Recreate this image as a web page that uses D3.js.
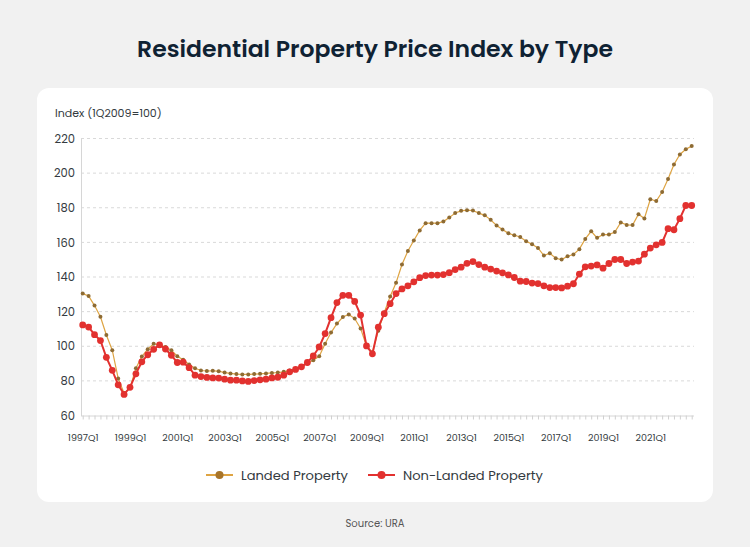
<!DOCTYPE html>
<html>
<head>
<meta charset="utf-8">
<script src="https://cdn.jsdelivr.net/npm/d3@7"></script>
<style>
  html, body { margin: 0; padding: 0; background: #f1f1f1; }
  svg { display: block; }
</style>
</head>
<body>
<svg id="chart" width="750" height="547"></svg>
<script>
// ---------- DATA ----------
const startYear = 1997;
const endYear = 2022;
const categories = [];
for (let y = startYear; y <= endYear; y++) for (let q = 1; q <= 4; q++) categories.push(y + "Q" + q);

const tickLabels = ["1997Q1","1999Q1","2001Q1","2003Q1","2005Q1","2007Q1","2009Q1","2011Q1","2013Q1","2015Q1","2017Q1","2019Q1","2021Q1"];
const yTicks = [60, 80, 100, 120, 140, 160, 180, 200, 220];

const landed = [
  130.4,129.0,123.5,117.0,106.5,97.7,81.4,72.8,76.0,87.3,94.1,98.3,101.4,100.8,99.6,97.7,
  94.2,92.2,89.5,87.3,86.0,85.7,85.8,85.6,84.8,84.3,83.9,83.7,83.7,83.9,84.1,84.3,
  84.6,84.8,85.2,86.0,87.0,88.5,90.0,91.9,94.2,101.5,107.9,113.1,116.9,118.4,116.0,110.3,
  100.0,96.5,109.0,119.5,128.8,136.7,147.2,155.0,161.1,166.9,171.1,171.1,171.1,172.0,174.3,177.0,
  178.2,178.6,178.4,176.9,175.6,173.0,169.8,167.4,165.2,164.1,163.1,160.7,158.9,156.8,152.4,153.7,
  150.8,150.1,152.0,153.0,156.1,162.0,166.4,162.6,164.5,164.5,166.0,171.5,170.1,170.0,176.3,173.8,
  184.9,183.9,189.1,196.6,205.0,210.8,213.8,215.6
];
const nonLanded = [
  112.3,111.1,106.7,103.3,93.6,86.1,77.7,72.2,76.3,84.1,91.0,95.1,98.2,100.8,98.4,94.8,
  90.6,90.8,87.6,83.3,82.5,82.0,81.7,81.6,81.0,80.4,80.4,80.0,79.7,80.2,80.6,81.0,
  81.7,82.1,83.3,85.2,86.6,88.1,90.6,94.4,99.6,107.3,116.5,125.2,129.4,129.4,125.9,118.0,
  100.2,95.6,111.0,118.8,124.6,130.4,133.1,134.9,137.2,139.6,140.8,141.1,141.1,141.4,142.5,144.3,
  145.7,147.9,148.9,147.2,145.7,144.6,143.4,142.4,141.2,139.7,137.6,137.4,136.5,136.2,134.9,133.9,
  133.9,133.7,134.7,136.1,141.7,145.9,146.3,147.0,145.1,147.8,150.1,150.1,147.8,148.6,149.2,153.2,
  156.7,158.6,160.0,167.9,167.3,173.7,181.3,181.3
];

const seriesNames = ["Landed Property", "Non-Landed Property"];

// ---------- STYLE ----------
const FONT = "Poppins, Inter, 'Noto Sans', sans-serif";
const landedLine = "#dea443";
const landedDot = "#8e6b33";
const landedLegendDot = "#a8752a";
const redColor = "#e2312f";
const textColor = "#333a40";

const svg = d3.select("#chart");

// card
svg.append("rect").attr("x", 37).attr("y", 88).attr("width", 676).attr("height", 414)
  .attr("rx", 12).attr("fill", "#ffffff");

// title (fit to width)
const title = svg.append("text").attr("x", 375).attr("y", 57).attr("text-anchor", "middle")
  .attr("font-family", FONT).attr("font-weight", 600).attr("font-size", 24)
  .attr("fill", "#0f2233").text("Residential Property Price Index by Type");
(function fit(){
  const w = title.node().getComputedTextLength();
  title.attr("font-size", 24 * 476 / w);
})();

// scales
const x = d3.scalePoint().domain(categories).range([82.7, 691.7]);
const y = d3.scaleLinear().domain([60, 220]).range([415.5, 138.5]);

// grid lines
const grid = svg.append("g");
grid.selectAll("line").data(yTicks.filter(d => d > 60)).join("line")
  .attr("x1", 81).attr("x2", 694)
  .attr("y1", d => y(d)).attr("y2", d => y(d))
  .attr("stroke", "#d9d9d9").attr("stroke-width", 1).attr("stroke-dasharray", "3,3");

// y axis
const yAxis = svg.append("g").attr("transform", "translate(81,0)")
  .call(d3.axisLeft(y).tickValues(yTicks).tickSize(0).tickPadding(6));
yAxis.select(".domain").attr("stroke", "#d6d6d6");
yAxis.selectAll("text").attr("font-family", FONT).attr("font-size", 11.5).attr("fill", textColor);

// x axis
const xAxis = svg.append("g").attr("transform", "translate(0," + y(60) + ")")
  .call(d3.axisBottom(x).tickSize(4).tickSizeOuter(0)
    .tickFormat(d => tickLabels.includes(d) ? d : ""));
xAxis.select(".domain").attr("stroke", "#d6d6d6").attr("d", "M81,0.5H694");
xAxis.selectAll(".tick line").attr("stroke", "#d0d0d0");
xAxis.selectAll("text").attr("font-family", FONT).attr("font-size", 9.5).attr("fill", textColor)
  .attr("dy", "1.9em");

// axis title
svg.append("text").attr("x", 55).attr("y", 117).attr("font-family", FONT)
  .attr("font-size", 11).attr("fill", textColor).text("Index (1Q2009=100)");

// lines
const line = d3.line().x((d, i) => x(categories[i])).y(d => y(d));

svg.append("path").datum(landed).attr("d", line).attr("fill", "none")
  .attr("stroke", landedLine).attr("stroke-width", 1.2);
svg.append("g").selectAll("circle").data(landed).join("circle")
  .attr("cx", (d, i) => x(categories[i])).attr("cy", d => y(d)).attr("r", 2)
  .attr("fill", landedDot);

svg.append("path").datum(nonLanded).attr("d", line).attr("fill", "none")
  .attr("stroke", redColor).attr("stroke-width", 2);
svg.append("g").selectAll("circle").data(nonLanded).join("circle")
  .attr("cx", (d, i) => x(categories[i])).attr("cy", d => y(d)).attr("r", 3.4)
  .attr("fill", redColor);

// legend
const legendItems = [
  { name: seriesNames[0], x: 206, line: landedLine, dot: landedLegendDot, r: 4, tw: 107 },
  { name: seriesNames[1], x: 368, line: redColor, dot: redColor, r: 4, tw: 140 }
];
const lg = svg.append("g").selectAll("g").data(legendItems).join("g")
  .attr("transform", d => "translate(" + d.x + ",475)");
lg.append("line").attr("x1", 0).attr("x2", 27).attr("y1", 0).attr("y2", 0)
  .attr("stroke", d => d.line).attr("stroke-width", 2);
lg.append("circle").attr("cx", 13.5).attr("cy", 0).attr("r", d => d.r).attr("fill", d => d.dot);
lg.append("text").attr("x", 35).attr("y", 5).attr("font-family", FONT).attr("font-size", 14)
  .attr("fill", textColor).text(d => d.name)
  .each(function(d){ const w = this.getComputedTextLength(); d3.select(this).attr("font-size", 14 * d.tw / w); });

// source
svg.append("text").attr("x", 375).attr("y", 527).attr("text-anchor", "middle")
  .attr("font-family", FONT).attr("font-size", 10).attr("fill", "#555").text("Source: URA");
</script>
</body>
</html>
